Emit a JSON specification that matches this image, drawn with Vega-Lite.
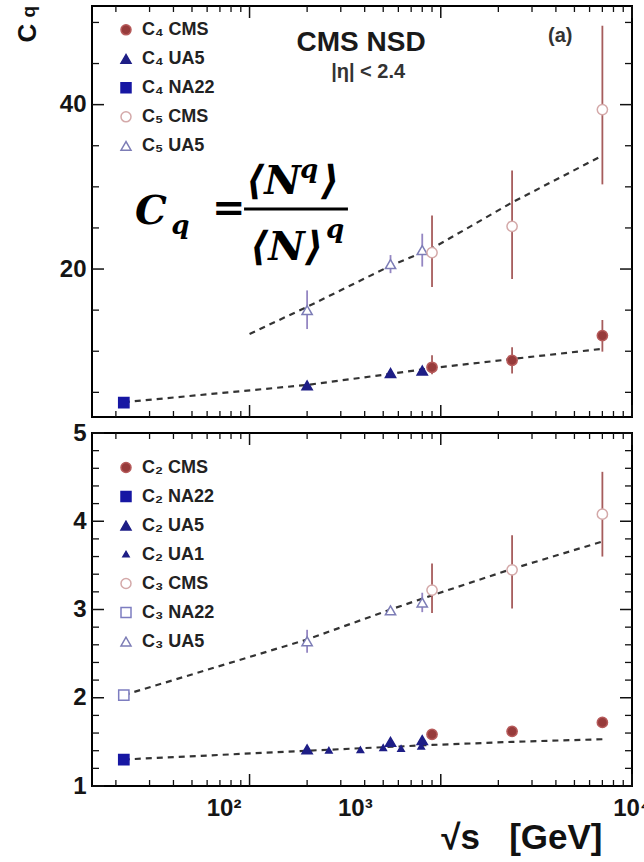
{
  "$schema": "https://vega.github.io/schema/vega-lite/v6.json",
  "background": "white",
  "padding": {"left": 14, "top": 4, "right": 0, "bottom": 0},
  "spacing": 2,
  "resolve": {
    "scale": {"shape": "independent", "fill": "independent", "stroke": "independent", "color": "independent"},
    "legend": {"shape": "independent", "fill": "independent", "stroke": "independent", "color": "independent"}
  },
  "config": {
    "view": {"stroke": "#000000", "strokeWidth": 2},
    "font": "Liberation Sans",
    "axis": {
      "domain": false,
      "grid": false,
      "ticks": false,
      "tickSize": 0,
      "labelFont": "Liberation Sans",
      "labelFontSize": 24,
      "labelFontWeight": "bold",
      "labelColor": "#151515",
      "labelFlush": false,
      "labelOverlap": false,
      "labelBound": false
    }
  },
  "datasets": {
    "xMajor": [{"v": 100}, {"v": 1000}, {"v": 10000}],
    "xMinor": [
      {"v": 20}, {"v": 30}, {"v": 40}, {"v": 50}, {"v": 60}, {"v": 70}, {"v": 80}, {"v": 90},
      {"v": 200}, {"v": 300}, {"v": 400}, {"v": 500}, {"v": 600}, {"v": 700}, {"v": 800}, {"v": 900},
      {"v": 2000}, {"v": 3000}, {"v": 4000}, {"v": 5000}, {"v": 6000}, {"v": 7000}, {"v": 8000}, {"v": 9000}
    ],
    "yMajorHigh": [{"v": 20}, {"v": 40}],
    "yMinorHigh": [{"v": 5}, {"v": 10}, {"v": 15}, {"v": 25}, {"v": 30}, {"v": 35}, {"v": 45}, {"v": 50}],
    "yMajorLow": [{"v": 1}, {"v": 2}, {"v": 3}, {"v": 4}, {"v": 5}],
    "yMinorLow": [
      {"v": 1.2}, {"v": 1.4}, {"v": 1.6}, {"v": 1.8}, {"v": 2.2}, {"v": 2.4}, {"v": 2.6}, {"v": 2.8},
      {"v": 3.2}, {"v": 3.4}, {"v": 3.6}, {"v": 3.8}, {"v": 4.2}, {"v": 4.4}, {"v": 4.6}, {"v": 4.8}
    ],
    "pointsHigh": [
      {"s": "C₄ NA22", "e": "NA22", "x": 22, "y": 3.75},
      {"s": "C₄ UA5", "e": "UA5", "x": 200, "y": 5.85},
      {"s": "C₄ UA5", "e": "UA5", "x": 546, "y": 7.35},
      {"s": "C₄ UA5", "e": "UA5", "x": 800, "y": 7.65},
      {"s": "C₄ CMS", "e": "CMS", "x": 900, "y": 8.05, "lo": 7.2, "hi": 9.5},
      {"s": "C₄ CMS", "e": "CMS", "x": 2360, "y": 8.9, "lo": 7.3, "hi": 10.5},
      {"s": "C₄ CMS", "e": "CMS", "x": 7000, "y": 11.9, "lo": 9.95, "hi": 13.8},
      {"s": "C₅ UA5", "e": "UA5", "x": 200, "y": 15.0, "lo": 12.7, "hi": 17.4},
      {"s": "C₅ UA5", "e": "UA5", "x": 546, "y": 20.6, "lo": 19.5, "hi": 21.7},
      {"s": "C₅ UA5", "e": "UA5", "x": 800, "y": 22.3, "lo": 20.3, "hi": 24.3},
      {"s": "C₅ CMS", "e": "CMS", "x": 900, "y": 22.0, "lo": 17.8, "hi": 26.5},
      {"s": "C₅ CMS", "e": "CMS", "x": 2360, "y": 25.2, "lo": 18.8, "hi": 32.0},
      {"s": "C₅ CMS", "e": "CMS", "x": 7000, "y": 39.4, "lo": 30.3, "hi": 49.6}
    ],
    "fitsHigh": [
      {"fit": "C4", "x": 22, "y": 3.8},
      {"fit": "C4", "x": 200, "y": 5.9},
      {"fit": "C4", "x": 546, "y": 7.25},
      {"fit": "C4", "x": 900, "y": 7.95},
      {"fit": "C4", "x": 2360, "y": 9.05},
      {"fit": "C4", "x": 7000, "y": 10.3},
      {"fit": "C5", "x": 100, "y": 12.1},
      {"fit": "C5", "x": 200, "y": 15.4},
      {"fit": "C5", "x": 546, "y": 20.4},
      {"fit": "C5", "x": 900, "y": 22.5},
      {"fit": "C5", "x": 2360, "y": 28.1},
      {"fit": "C5", "x": 7000, "y": 33.8}
    ],
    "pointsLow": [
      {"s": "C₂ NA22", "e": "NA22", "x": 22, "y": 1.30},
      {"s": "C₂ UA1", "e": "UA1", "x": 200, "y": 1.40},
      {"s": "C₂ UA1", "e": "UA1", "x": 260, "y": 1.40},
      {"s": "C₂ UA1", "e": "UA1", "x": 380, "y": 1.405},
      {"s": "C₂ UA1", "e": "UA1", "x": 500, "y": 1.43},
      {"s": "C₂ UA1", "e": "UA1", "x": 620, "y": 1.42},
      {"s": "C₂ UA1", "e": "UA1", "x": 790, "y": 1.445},
      {"s": "C₂ UA5", "e": "UA5", "x": 200, "y": 1.415},
      {"s": "C₂ UA5", "e": "UA5", "x": 546, "y": 1.50},
      {"s": "C₂ UA5", "e": "UA5", "x": 800, "y": 1.52},
      {"s": "C₂ CMS", "e": "CMS", "x": 900, "y": 1.585, "lo": 1.56, "hi": 1.61},
      {"s": "C₂ CMS", "e": "CMS", "x": 2360, "y": 1.62, "lo": 1.59, "hi": 1.65},
      {"s": "C₂ CMS", "e": "CMS", "x": 7000, "y": 1.72, "lo": 1.69, "hi": 1.75},
      {"s": "C₃ NA22", "e": "NA22", "x": 22, "y": 2.03},
      {"s": "C₃ UA5", "e": "UA5", "x": 200, "y": 2.64, "lo": 2.51, "hi": 2.77},
      {"s": "C₃ UA5", "e": "UA5", "x": 546, "y": 2.99, "lo": 2.95, "hi": 3.03},
      {"s": "C₃ UA5", "e": "UA5", "x": 800, "y": 3.08, "lo": 2.97, "hi": 3.19},
      {"s": "C₃ CMS", "e": "CMS", "x": 900, "y": 3.22, "lo": 2.96, "hi": 3.52},
      {"s": "C₃ CMS", "e": "CMS", "x": 2360, "y": 3.45, "lo": 3.01, "hi": 3.84},
      {"s": "C₃ CMS", "e": "CMS", "x": 7000, "y": 4.08, "lo": 3.60, "hi": 4.56}
    ],
    "fitsLow": [
      {"fit": "C2", "x": 22, "y": 1.30},
      {"fit": "C2", "x": 200, "y": 1.40},
      {"fit": "C2", "x": 900, "y": 1.465},
      {"fit": "C2", "x": 2360, "y": 1.50},
      {"fit": "C2", "x": 7000, "y": 1.53},
      {"fit": "C3", "x": 22, "y": 2.03},
      {"fit": "C3", "x": 200, "y": 2.66},
      {"fit": "C3", "x": 546, "y": 3.0},
      {"fit": "C3", "x": 900, "y": 3.16},
      {"fit": "C3", "x": 2360, "y": 3.46},
      {"fit": "C3", "x": 7000, "y": 3.77}
    ],
    "formulaBig": [
      {"t": "C", "x": 25.2, "y": 25.48},
      {"t": "⟨N", "x": 95.8, "y": 29.13},
      {"t": "⟩", "x": 236.5, "y": 29.13},
      {"t": "⟨N⟩", "x": 100.6, "y": 21.1}
    ],
    "formulaSmall": [
      {"t": "q", "x": 39.0, "y": 24.26},
      {"t": "q", "x": 183.7, "y": 31.08},
      {"t": "q", "x": 251, "y": 23.78}
    ],
    "fractionBar": [{"x": 93.6, "x2": 327, "y": 27.3}]
  },
  "vconcat": [
    {
      "width": 540,
      "height": 411,
      "resolve": {"axis": {"x": "independent", "y": "independent"}},
      "layer": [
        {
          "data": {"name": "fitsHigh"},
          "mark": {"type": "line", "color": "#333333", "strokeWidth": 2.2, "strokeDash": [6, 5]},
          "encoding": {
            "x": {"field": "x", "type": "quantitative",
              "scale": {"type": "log", "domain": [15, 10000], "nice": false},
              "axis": null},
            "y": {"field": "y", "type": "quantitative",
              "scale": {"domain": [2, 52], "nice": false, "zero": false},
              "axis": {"orient": "left", "title": null, "values": [20, 40], "labelPadding": 6}},
            "detail": {"field": "fit", "type": "nominal"}
          }
        },
        {
          "data": {"name": "xMajor"},
          "mark": {"type": "tick", "orient": "vertical", "size": 12, "thickness": 1.5, "yOffset": -6, "color": "#111111", "opacity": 1},
          "encoding": {
            "x": {"field": "v", "type": "quantitative", "scale": {"type": "log", "domain": [15, 10000], "nice": false}, "axis": null},
            "y": {"datum": 2, "type": "quantitative", "scale": {"domain": [2, 52], "nice": false, "zero": false}, "axis": null}
          }
        },
        {
          "data": {"name": "xMajor"},
          "mark": {"type": "tick", "orient": "vertical", "size": 12, "thickness": 1.5, "yOffset": 6, "color": "#111111", "opacity": 1},
          "encoding": {
            "x": {"field": "v", "type": "quantitative", "scale": {"type": "log", "domain": [15, 10000], "nice": false}, "axis": null},
            "y": {"datum": 52, "type": "quantitative", "scale": {"domain": [2, 52], "nice": false, "zero": false}, "axis": null}
          }
        },
        {
          "data": {"name": "xMinor"},
          "mark": {"type": "tick", "orient": "vertical", "size": 6, "thickness": 1.3, "yOffset": -3, "color": "#111111", "opacity": 1},
          "encoding": {
            "x": {"field": "v", "type": "quantitative", "scale": {"type": "log", "domain": [15, 10000], "nice": false}, "axis": null},
            "y": {"datum": 2, "type": "quantitative", "scale": {"domain": [2, 52], "nice": false, "zero": false}, "axis": null}
          }
        },
        {
          "data": {"name": "xMinor"},
          "mark": {"type": "tick", "orient": "vertical", "size": 6, "thickness": 1.3, "yOffset": 3, "color": "#111111", "opacity": 1},
          "encoding": {
            "x": {"field": "v", "type": "quantitative", "scale": {"type": "log", "domain": [15, 10000], "nice": false}, "axis": null},
            "y": {"datum": 52, "type": "quantitative", "scale": {"domain": [2, 52], "nice": false, "zero": false}, "axis": null}
          }
        },
        {
          "data": {"name": "yMajorHigh"},
          "mark": {"type": "tick", "orient": "horizontal", "size": 12, "thickness": 1.5, "xOffset": 6, "color": "#111111", "opacity": 1},
          "encoding": {
            "x": {"datum": 15, "type": "quantitative", "scale": {"type": "log", "domain": [15, 10000], "nice": false}, "axis": null},
            "y": {"field": "v", "type": "quantitative", "scale": {"domain": [2, 52], "nice": false, "zero": false}, "axis": null}
          }
        },
        {
          "data": {"name": "yMajorHigh"},
          "mark": {"type": "tick", "orient": "horizontal", "size": 12, "thickness": 1.5, "xOffset": -6, "color": "#111111", "opacity": 1},
          "encoding": {
            "x": {"datum": 10000, "type": "quantitative", "scale": {"type": "log", "domain": [15, 10000], "nice": false}, "axis": null},
            "y": {"field": "v", "type": "quantitative", "scale": {"domain": [2, 52], "nice": false, "zero": false}, "axis": null}
          }
        },
        {
          "data": {"name": "yMinorHigh"},
          "mark": {"type": "tick", "orient": "horizontal", "size": 7, "thickness": 1.3, "xOffset": 3.5, "color": "#111111", "opacity": 1},
          "encoding": {
            "x": {"datum": 15, "type": "quantitative", "scale": {"type": "log", "domain": [15, 10000], "nice": false}, "axis": null},
            "y": {"field": "v", "type": "quantitative", "scale": {"domain": [2, 52], "nice": false, "zero": false}, "axis": null}
          }
        },
        {
          "data": {"name": "yMinorHigh"},
          "mark": {"type": "tick", "orient": "horizontal", "size": 7, "thickness": 1.3, "xOffset": -3.5, "color": "#111111", "opacity": 1},
          "encoding": {
            "x": {"datum": 10000, "type": "quantitative", "scale": {"type": "log", "domain": [15, 10000], "nice": false}, "axis": null},
            "y": {"field": "v", "type": "quantitative", "scale": {"domain": [2, 52], "nice": false, "zero": false}, "axis": null}
          }
        },
        {
          "data": {"name": "pointsHigh"},
          "transform": [{"filter": "isValid(datum.lo)"}],
          "mark": {"type": "rule", "strokeWidth": 1.8},
          "encoding": {
            "x": {"field": "x", "type": "quantitative", "scale": {"type": "log", "domain": [15, 10000], "nice": false}, "axis": null},
            "y": {"field": "lo", "type": "quantitative", "scale": {"domain": [2, 52], "nice": false, "zero": false}, "axis": null},
            "y2": {"field": "hi"},
            "color": {"field": "e", "type": "nominal", "legend": null,
              "scale": {"domain": ["CMS", "UA5"], "range": ["#a65c5c", "#9486c2"]}}
          }
        },
        {
          "data": {"name": "pointsHigh"},
          "mark": {"type": "point", "size": 105, "strokeWidth": 1.5, "opacity": 1, "fillOpacity": 1},
          "encoding": {
            "x": {"field": "x", "type": "quantitative", "scale": {"type": "log", "domain": [15, 10000], "nice": false}, "axis": null},
            "y": {"field": "y", "type": "quantitative", "scale": {"domain": [2, 52], "nice": false, "zero": false}, "axis": null},
            "shape": {"field": "s", "type": "nominal",
              "scale": {"domain": ["C₄ CMS", "C₄ UA5", "C₄ NA22", "C₅ CMS", "C₅ UA5"],
                "range": ["circle", "triangle-up", "square", "circle", "triangle-up"]},
              "legend": {"title": null, "orient": "none", "legendX": 25, "legendY": 9.5, "padding": 0, "clipHeight": 28.7, "rowPadding": 0, "labelOffset": 7, "labelFont": "Liberation Sans", "labelFontSize": 18, "labelFontWeight": "bold", "labelColor": "#222222", "symbolStrokeWidth": 1.5}},
            "fill": {"field": "s", "type": "nominal",
              "scale": {"domain": ["C₄ CMS", "C₄ UA5", "C₄ NA22", "C₅ CMS", "C₅ UA5"],
                "range": ["#973b3b", "#1e1e86", "#1717a3", "#ffffff", "#ffffff"]},
              "legend": {"title": null, "orient": "none", "legendX": 25, "legendY": 9.5, "padding": 0, "clipHeight": 28.7, "rowPadding": 0, "labelOffset": 7, "labelFont": "Liberation Sans", "labelFontSize": 18, "labelFontWeight": "bold", "labelColor": "#222222", "symbolStrokeWidth": 1.5}},
            "stroke": {"field": "s", "type": "nominal",
              "scale": {"domain": ["C₄ CMS", "C₄ UA5", "C₄ NA22", "C₅ CMS", "C₅ UA5"],
                "range": ["#b65a5a", "#1e1e86", "#1717a3", "#d4a9a9", "#7d7db6"]},
              "legend": {"title": null, "orient": "none", "legendX": 25, "legendY": 9.5, "padding": 0, "clipHeight": 28.7, "rowPadding": 0, "labelOffset": 7, "labelFont": "Liberation Sans", "labelFontSize": 18, "labelFontWeight": "bold", "labelColor": "#222222", "symbolStrokeWidth": 1.5}}
          }
        },
        {
          "data": {"name": "fractionBar"},
          "mark": {"type": "rule", "color": "#000000", "strokeWidth": 3},
          "encoding": {
            "x": {"field": "x", "type": "quantitative", "scale": {"type": "log", "domain": [15, 10000], "nice": false}, "axis": null},
            "x2": {"field": "x2"},
            "y": {"field": "y", "type": "quantitative", "scale": {"domain": [2, 52], "nice": false, "zero": false}, "axis": null}
          }
        },
        {
          "data": {"name": "formulaBig"},
          "mark": {"type": "text", "font": "DejaVu Serif", "fontSize": 40, "fontWeight": "bold", "fontStyle": "italic", "align": "left", "baseline": "alphabetic", "color": "#000000"},
          "encoding": {
            "x": {"field": "x", "type": "quantitative", "scale": {"type": "log", "domain": [15, 10000], "nice": false}, "axis": null},
            "y": {"field": "y", "type": "quantitative", "scale": {"domain": [2, 52], "nice": false, "zero": false}, "axis": null},
            "text": {"field": "t"}
          }
        },
        {
          "data": {"values": [{"t": "=", "x": 63.6, "y": 25.84}]},
          "mark": {"type": "text", "font": "DejaVu Serif", "fontSize": 40, "fontWeight": "bold", "align": "left", "baseline": "alphabetic", "color": "#000000"},
          "encoding": {
            "x": {"field": "x", "type": "quantitative", "scale": {"type": "log", "domain": [15, 10000], "nice": false}, "axis": null},
            "y": {"field": "y", "type": "quantitative", "scale": {"domain": [2, 52], "nice": false, "zero": false}, "axis": null},
            "text": {"field": "t"}
          }
        },
        {
          "data": {"name": "formulaSmall"},
          "mark": {"type": "text", "font": "DejaVu Serif", "fontSize": 26, "fontWeight": "bold", "fontStyle": "italic", "align": "left", "baseline": "alphabetic", "color": "#000000"},
          "encoding": {
            "x": {"field": "x", "type": "quantitative", "scale": {"type": "log", "domain": [15, 10000], "nice": false}, "axis": null},
            "y": {"field": "y", "type": "quantitative", "scale": {"domain": [2, 52], "nice": false, "zero": false}, "axis": null},
            "text": {"field": "t"}
          }
        },
        {
          "data": {"values": [{"t": "CMS NSD", "x": 383, "y": 46.53}]},
          "mark": {"type": "text", "font": "Liberation Sans", "fontSize": 28, "fontWeight": "bold", "align": "center", "baseline": "alphabetic", "color": "#1a1a1a"},
          "encoding": {
            "x": {"field": "x", "type": "quantitative", "scale": {"type": "log", "domain": [15, 10000], "nice": false}, "axis": null},
            "y": {"field": "y", "type": "quantitative", "scale": {"domain": [2, 52], "nice": false, "zero": false}, "axis": null},
            "text": {"field": "t"}
          }
        },
        {
          "data": {"values": [{"t": "|η| < 2.4", "x": 417, "y": 43.24}]},
          "mark": {"type": "text", "font": "Liberation Sans", "fontSize": 20, "fontWeight": "bold", "align": "center", "baseline": "alphabetic", "color": "#333333"},
          "encoding": {
            "x": {"field": "x", "type": "quantitative", "scale": {"type": "log", "domain": [15, 10000], "nice": false}, "axis": null},
            "y": {"field": "y", "type": "quantitative", "scale": {"domain": [2, 52], "nice": false, "zero": false}, "axis": null},
            "text": {"field": "t"}
          }
        },
        {
          "data": {"values": [{"t": "(a)", "x": 4217, "y": 47.6}]},
          "mark": {"type": "text", "font": "Liberation Sans", "fontSize": 20, "fontWeight": "bold", "align": "center", "baseline": "alphabetic", "color": "#333333"},
          "encoding": {
            "x": {"field": "x", "type": "quantitative", "scale": {"type": "log", "domain": [15, 10000], "nice": false}, "axis": null},
            "y": {"field": "y", "type": "quantitative", "scale": {"domain": [2, 52], "nice": false, "zero": false}, "axis": null},
            "text": {"field": "t"}
          }
        },
        {
          "data": {"values": [{"t": "C", "x": 6.98, "y": 48.7}]},
          "mark": {"type": "text", "font": "Liberation Sans", "fontSize": 26, "fontWeight": "bold", "angle": 270, "align": "center", "baseline": "middle", "color": "#111111"},
          "encoding": {
            "x": {"field": "x", "type": "quantitative", "scale": {"type": "log", "domain": [15, 10000], "nice": false}, "axis": null},
            "y": {"field": "y", "type": "quantitative", "scale": {"domain": [2, 52], "nice": false, "zero": false}, "axis": null},
            "text": {"field": "t"}
          }
        },
        {
          "data": {"values": [{"t": "q", "x": 7.0, "y": 51.3}]},
          "mark": {"type": "text", "font": "Liberation Sans", "fontSize": 19, "fontWeight": "bold", "angle": 270, "align": "center", "baseline": "middle", "color": "#111111"},
          "encoding": {
            "x": {"field": "x", "type": "quantitative", "scale": {"type": "log", "domain": [15, 10000], "nice": false}, "axis": null},
            "y": {"field": "y", "type": "quantitative", "scale": {"domain": [2, 52], "nice": false, "zero": false}, "axis": null},
            "text": {"field": "t"}
          }
        }
      ]
    },
    {
      "width": 540,
      "height": 353,
      "resolve": {"axis": {"x": "independent", "y": "independent"}},
      "layer": [
        {
          "data": {"name": "fitsLow"},
          "mark": {"type": "line", "color": "#333333", "strokeWidth": 2.2, "strokeDash": [6, 5]},
          "encoding": {
            "x": {"field": "x", "type": "quantitative",
              "scale": {"type": "log", "domain": [15, 10000], "nice": false},
              "axis": {"orient": "bottom", "values": [100, 1000, 10000],
                "labelExpr": "datum.value === 100 ? '10²' : datum.value === 1000 ? '10³' : '10⁴'",
                "labelPadding": 10,
                "labelOffset": {"condition": [{"test": "datum.value === 100", "value": -26}, {"test": "datum.value === 1000", "value": -86}], "value": 0},
                "title": "√s\u00a0\u00a0\u00a0[GeV]",
                "titleFont": "Liberation Sans",
                "titleFontSize": 35,
                "titleFontWeight": "bold",
                "titleColor": "#111111",
                "titleAnchor": "end",
                "titleAlign": "right",
                "titleBaseline": "alphabetic",
                "titleX": 510,
                "titleY": 62}},
            "y": {"field": "y", "type": "quantitative",
              "scale": {"domain": [1, 5], "nice": false, "zero": false},
              "axis": {"orient": "left", "title": null, "values": [1, 2, 3, 4, 5], "format": "d", "labelPadding": 6}},
            "detail": {"field": "fit", "type": "nominal"}
          }
        },
        {
          "data": {"name": "xMajor"},
          "mark": {"type": "tick", "orient": "vertical", "size": 12, "thickness": 1.5, "yOffset": -6, "color": "#111111", "opacity": 1},
          "encoding": {
            "x": {"field": "v", "type": "quantitative", "scale": {"type": "log", "domain": [15, 10000], "nice": false}, "axis": null},
            "y": {"datum": 1, "type": "quantitative", "scale": {"domain": [1, 5], "nice": false, "zero": false}, "axis": null}
          }
        },
        {
          "data": {"name": "xMajor"},
          "mark": {"type": "tick", "orient": "vertical", "size": 12, "thickness": 1.5, "yOffset": 6, "color": "#111111", "opacity": 1},
          "encoding": {
            "x": {"field": "v", "type": "quantitative", "scale": {"type": "log", "domain": [15, 10000], "nice": false}, "axis": null},
            "y": {"datum": 5, "type": "quantitative", "scale": {"domain": [1, 5], "nice": false, "zero": false}, "axis": null}
          }
        },
        {
          "data": {"name": "xMinor"},
          "mark": {"type": "tick", "orient": "vertical", "size": 6, "thickness": 1.3, "yOffset": -3, "color": "#111111", "opacity": 1},
          "encoding": {
            "x": {"field": "v", "type": "quantitative", "scale": {"type": "log", "domain": [15, 10000], "nice": false}, "axis": null},
            "y": {"datum": 1, "type": "quantitative", "scale": {"domain": [1, 5], "nice": false, "zero": false}, "axis": null}
          }
        },
        {
          "data": {"name": "xMinor"},
          "mark": {"type": "tick", "orient": "vertical", "size": 6, "thickness": 1.3, "yOffset": 3, "color": "#111111", "opacity": 1},
          "encoding": {
            "x": {"field": "v", "type": "quantitative", "scale": {"type": "log", "domain": [15, 10000], "nice": false}, "axis": null},
            "y": {"datum": 5, "type": "quantitative", "scale": {"domain": [1, 5], "nice": false, "zero": false}, "axis": null}
          }
        },
        {
          "data": {"name": "yMajorLow"},
          "mark": {"type": "tick", "orient": "horizontal", "size": 12, "thickness": 1.5, "xOffset": 6, "color": "#111111", "opacity": 1},
          "encoding": {
            "x": {"datum": 15, "type": "quantitative", "scale": {"type": "log", "domain": [15, 10000], "nice": false}, "axis": null},
            "y": {"field": "v", "type": "quantitative", "scale": {"domain": [1, 5], "nice": false, "zero": false}, "axis": null}
          }
        },
        {
          "data": {"name": "yMajorLow"},
          "mark": {"type": "tick", "orient": "horizontal", "size": 12, "thickness": 1.5, "xOffset": -6, "color": "#111111", "opacity": 1},
          "encoding": {
            "x": {"datum": 10000, "type": "quantitative", "scale": {"type": "log", "domain": [15, 10000], "nice": false}, "axis": null},
            "y": {"field": "v", "type": "quantitative", "scale": {"domain": [1, 5], "nice": false, "zero": false}, "axis": null}
          }
        },
        {
          "data": {"name": "yMinorLow"},
          "mark": {"type": "tick", "orient": "horizontal", "size": 7, "thickness": 1.3, "xOffset": 3.5, "color": "#111111", "opacity": 1},
          "encoding": {
            "x": {"datum": 15, "type": "quantitative", "scale": {"type": "log", "domain": [15, 10000], "nice": false}, "axis": null},
            "y": {"field": "v", "type": "quantitative", "scale": {"domain": [1, 5], "nice": false, "zero": false}, "axis": null}
          }
        },
        {
          "data": {"name": "yMinorLow"},
          "mark": {"type": "tick", "orient": "horizontal", "size": 7, "thickness": 1.3, "xOffset": -3.5, "color": "#111111", "opacity": 1},
          "encoding": {
            "x": {"datum": 10000, "type": "quantitative", "scale": {"type": "log", "domain": [15, 10000], "nice": false}, "axis": null},
            "y": {"field": "v", "type": "quantitative", "scale": {"domain": [1, 5], "nice": false, "zero": false}, "axis": null}
          }
        },
        {
          "data": {"name": "pointsLow"},
          "transform": [{"filter": "isValid(datum.lo)"}],
          "mark": {"type": "rule", "strokeWidth": 1.8},
          "encoding": {
            "x": {"field": "x", "type": "quantitative", "scale": {"type": "log", "domain": [15, 10000], "nice": false}, "axis": null},
            "y": {"field": "lo", "type": "quantitative", "scale": {"domain": [1, 5], "nice": false, "zero": false}, "axis": null},
            "y2": {"field": "hi"},
            "color": {"field": "e", "type": "nominal", "legend": null,
              "scale": {"domain": ["CMS", "UA5"], "range": ["#a65c5c", "#9486c2"]}}
          }
        },
        {
          "data": {"name": "pointsLow"},
          "mark": {"type": "point", "size": 105, "strokeWidth": 1.5, "opacity": 1, "fillOpacity": 1},
          "encoding": {
            "x": {"field": "x", "type": "quantitative", "scale": {"type": "log", "domain": [15, 10000], "nice": false}, "axis": null},
            "y": {"field": "y", "type": "quantitative", "scale": {"domain": [1, 5], "nice": false, "zero": false}, "axis": null},
            "shape": {"field": "s", "type": "nominal",
              "scale": {"domain": ["C₂ CMS", "C₂ NA22", "C₂ UA5", "C₂ UA1", "C₃ CMS", "C₃ NA22", "C₃ UA5"],
                "range": ["circle", "square", "triangle-up", "M0,-0.62L0.62,0.46L-0.62,0.46Z", "circle", "square", "triangle-up"]},
              "legend": {"title": null, "orient": "none", "legendX": 25, "legendY": 20.5, "padding": 0, "clipHeight": 28.1, "rowPadding": 0, "labelOffset": 7, "labelFont": "Liberation Sans", "labelFontSize": 18, "labelFontWeight": "bold", "labelColor": "#222222", "symbolStrokeWidth": 1.5}},
            "fill": {"field": "s", "type": "nominal",
              "scale": {"domain": ["C₂ CMS", "C₂ NA22", "C₂ UA5", "C₂ UA1", "C₃ CMS", "C₃ NA22", "C₃ UA5"],
                "range": ["#973b3b", "#1717a3", "#1e1e86", "#1e1e86", "#ffffff", "#ffffff", "#ffffff"]},
              "legend": {"title": null, "orient": "none", "legendX": 25, "legendY": 20.5, "padding": 0, "clipHeight": 28.1, "rowPadding": 0, "labelOffset": 7, "labelFont": "Liberation Sans", "labelFontSize": 18, "labelFontWeight": "bold", "labelColor": "#222222", "symbolStrokeWidth": 1.5}},
            "stroke": {"field": "s", "type": "nominal",
              "scale": {"domain": ["C₂ CMS", "C₂ NA22", "C₂ UA5", "C₂ UA1", "C₃ CMS", "C₃ NA22", "C₃ UA5"],
                "range": ["#b65a5a", "#1717a3", "#1e1e86", "#1e1e86", "#d4a9a9", "#7d7dc0", "#7d7db6"]},
              "legend": {"title": null, "orient": "none", "legendX": 25, "legendY": 20.5, "padding": 0, "clipHeight": 28.1, "rowPadding": 0, "labelOffset": 7, "labelFont": "Liberation Sans", "labelFontSize": 18, "labelFontWeight": "bold", "labelColor": "#222222", "symbolStrokeWidth": 1.5}}
          }
        }
      ]
    }
  ]
}
